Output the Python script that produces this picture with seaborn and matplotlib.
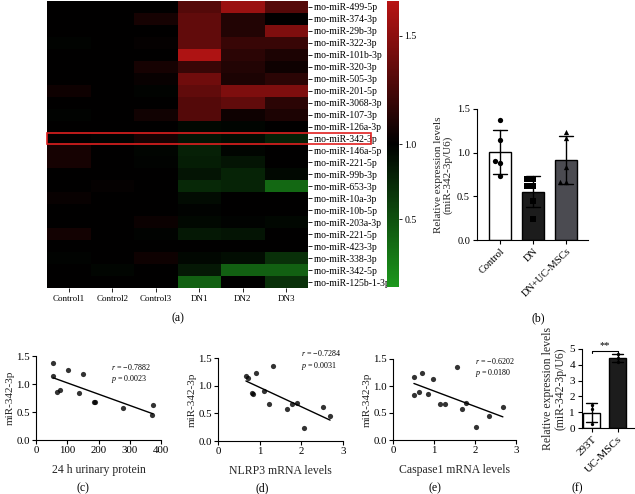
import numpy as np
import pandas as pd
import matplotlib
matplotlib.use('Agg')
import matplotlib.pyplot as plt
from matplotlib.colors import LinearSegmentedColormap, TwoSlopeNorm
from matplotlib.patches import Rectangle
import seaborn as sns

W, H = 635, 494

# (a) heatmap data
mirna_labels = ['rno-miR-499-5p', 'rno-miR-374-3p', 'rno-miR-29b-3p', 'rno-miR-322-3p',
                'rno-miR-101b-3p', 'rno-miR-320-3p', 'rno-miR-505-3p', 'rno-miR-201-5p',
                'rno-miR-3068-3p', 'rno-miR-107-3p', 'rno-miR-126a-3p', 'rno-miR-342-3p',
                'rno-miR-146a-5p', 'rno-miR-221-5p', 'rno-miR-99b-3p', 'rno-miR-653-3p',
                'rno-miR-10a-3p', 'rno-miR-10b-5p', 'rno-miR-203a-3p', 'rno-miR-221-5p',
                'rno-miR-423-3p', 'rno-miR-338-3p', 'rno-miR-342-5p', 'rno-miR-125b-1-3p']
samples = ['Control1', 'Control2', 'Control3', 'DN1', 'DN2', 'DN3']
control1 = [1.0, 1.0, 1.0, 0.98, 1.0, 1.0, 1.0, 1.05, 1.0, 0.98, 1.0, 1.0,
            1.08, 1.08, 1.0, 1.0, 1.03, 1.0, 1.0, 1.07, 1.0, 0.98, 1.0, 1.0]
control2 = [1.0, 1.0, 1.0, 1.0, 1.0, 1.0, 1.0, 1.0, 1.0, 1.0, 1.0, 0.98,
            1.0, 1.0, 1.0, 1.02, 1.0, 1.0, 1.0, 1.0, 1.0, 1.0, 0.97, 1.0]
control3 = [1.0, 1.08, 1.0, 1.02, 1.0, 1.08, 1.03, 0.98, 1.0, 1.06, 1.0, 1.08,
            0.97, 0.98, 1.0, 1.0, 1.0, 1.0, 1.04, 0.98, 1.0, 1.05, 1.0, 1.0]
dn1 = [1.3, 1.35, 1.35, 1.35, 1.62, 1.2, 1.4, 1.35, 1.3, 1.3, 0.95, 0.88,
       0.8, 0.82, 0.88, 0.75, 0.93, 0.98, 0.95, 0.85, 1.0, 0.96, 0.85, 0.4]
dn2 = [1.55, 1.12, 1.12, 1.2, 1.15, 1.12, 1.1, 1.45, 1.35, 1.05, 0.97, 0.92,
       0.97, 0.88, 0.78, 0.78, 1.0, 1.0, 0.98, 0.88, 1.0, 0.92, 0.4, 1.0]
dn3 = [1.3, 1.0, 1.45, 1.2, 1.1, 1.05, 1.15, 1.45, 1.15, 1.1, 1.0, 0.8,
       1.0, 1.0, 0.95, 0.35, 1.0, 1.0, 0.96, 1.0, 1.0, 0.7, 0.4, 0.7]

# (b) miR-342-3p in kidney
b_groups = ['Control', 'DN', 'DN+UC-MSCs']
b_control = [1.37, 1.14, 0.91, 0.885, 0.73]
b_dn = [0.70, 0.70, 0.62, 0.62, 0.45, 0.24]
b_ucmsc = [1.24, 1.17, 0.84, 0.66, 0.66]

# (c)-(e) correlations
c_protein = [55, 55, 101, 151, 66, 77, 139, 185, 190, 278, 374, 371]
c_mir = [1.37, 1.14, 1.245, 1.18, 0.86, 0.90, 0.845, 0.67, 0.685, 0.58, 0.62, 0.45]
d_nlrp3 = [0.67, 0.72, 0.90, 1.33, 0.81, 0.83, 1.11, 1.22, 1.65, 1.78, 1.89, 2.07, 2.52, 2.69]
d_mir = [1.175, 1.13, 1.235, 1.36, 0.87, 0.845, 0.90, 0.66, 0.58, 0.67, 0.68, 0.235, 0.615, 0.445]
e_casp1 = [0.51, 0.51, 0.70, 0.64, 0.85, 0.98, 1.14, 1.28, 1.55, 1.68, 1.79, 2.03, 2.35, 2.68]
e_mir = [1.17, 0.84, 1.235, 0.895, 0.855, 1.135, 0.667, 0.667, 1.357, 0.568, 0.68, 0.235, 0.444, 0.617]

# (f) 293T vs UC-MSCs
f_groups = ['293T', 'UC-MSCs']
f_293t = [1.47, 1.2, 0.27]
f_ucmsc = [4.68, 4.45, 4.2]


def box(x0, y0, x1, y1):
    return [x0 / W, 1 - y1 / H, (x1 - x0) / W, (y1 - y0) / H]


sns.set_theme(style='ticks')
plt.rcParams['font.family'] = ['Liberation Serif', 'DejaVu Serif']
plt.rcParams['mathtext.fontset'] = 'custom'
plt.rcParams['mathtext.rm'] = 'Liberation Serif'
plt.rcParams['mathtext.it'] = 'Liberation Serif:italic'
plt.rcParams['axes.linewidth'] = 0.8
plt.rcParams['axes.edgecolor'] = 'black'
plt.rcParams['text.color'] = 'black'
plt.rcParams['xtick.color'] = 'black'
plt.rcParams['ytick.color'] = 'black'

fig = plt.figure(figsize=(W / 100, H / 100), dpi=100)

# ---- (a) heatmap
ax_a = fig.add_axes(box(47, 1, 308, 288))
cax = fig.add_axes(box(387, 1, 399, 287))
heat = pd.DataFrame({'Control1': control1, 'Control2': control2, 'Control3': control3,
                     'DN1': dn1, 'DN2': dn2, 'DN3': dn3})
cmap = LinearSegmentedColormap.from_list('gbr', ['#1c981c', '#000000', '#b81414'])
norm = TwoSlopeNorm(vmin=0.05, vcenter=1.0, vmax=1.66)
sns.heatmap(heat[samples].values, cmap=cmap, norm=norm, ax=ax_a, cbar_ax=cax,
            xticklabels=samples, yticklabels=mirna_labels)
ax_a.yaxis.tick_right()
ax_a.tick_params(axis='y', rotation=0, labelsize=7, length=3, width=0.6, pad=1.5, right=True, left=False)
ax_a.tick_params(axis='x', rotation=0, labelsize=6.5, length=3, width=0.6, pad=2, bottom=True)
ax_a.add_patch(Rectangle((0, 11), 7.45, 1, fill=False, edgecolor='#e02020', lw=1.2, clip_on=False))
cbar = ax_a.collections[0].colorbar
cbar.outline.set_visible(False)
cbar.set_ticks([0.5, 1.0, 1.5])
cbar.set_ticklabels(['0.5', '1.0', '1.5'])
cax.tick_params(labelsize=7, length=2.5, width=0.6, pad=1.5)

# ---- (b) bar chart
ax_b = fig.add_axes(box(477, 109, 588, 240))
df_b = pd.DataFrame({'group': ['Control'] * len(b_control) + ['DN'] * len(b_dn) + ['DN+UC-MSCs'] * len(b_ucmsc),
                     'value': b_control + b_dn + b_ucmsc})
sns.barplot(data=df_b, x='group', y='value', hue='group', order=b_groups,
            palette=['white', '#1c1c1c', '#4a4a52'], edgecolor='black', linewidth=1,
            errorbar='sd', capsize=0.4, err_kws={'color': 'black', 'linewidth': 1},
            width=0.67, legend=False, ax=ax_b)
for vals, grp, mk in zip([b_control, b_dn, b_ucmsc], b_groups, ['o', 's', '^']):
    sns.swarmplot(x=[grp] * len(vals), y=vals, order=b_groups, color='black', marker=mk,
                  size=3.8, ax=ax_b)
ax_b.set_xlim(-0.7, 2.67)
ax_b.set_ylim(0, 1.5)
ax_b.set_yticks([0, 0.5, 1.0, 1.5])
ax_b.set_yticklabels(['0.0', '0.5', '1.0', '1.5'])
ax_b.set_xlabel('')
ax_b.set_ylabel('Relative expression levels\n(miR-342-3p/U6)', fontsize=8, labelpad=3, linespacing=1.1)
ax_b.tick_params(labelsize=7.5, length=3, width=0.8, pad=2)
ax_b.set_xticks(range(3))
ax_b.set_xticklabels(b_groups, rotation=45, ha='right', rotation_mode='anchor')
sns.despine(ax=ax_b)


# ---- (c)-(e) scatter + regression
def corr_panel(rect, xs, ys, xlim, xticks, xlabel, stat, stat_xy):
    ax = fig.add_axes(box(*rect))
    sns.regplot(x=np.array(xs), y=np.array(ys), ci=None, color='black', ax=ax,
                scatter_kws={'s': 14, 'linewidths': 0},
                line_kws={'linewidth': 1})
    ax.set_xlim(*xlim)
    ax.set_ylim(0, 1.5)
    ax.set_xticks(xticks)
    ax.set_yticks([0, 0.5, 1.0, 1.5])
    ax.set_yticklabels(['0.0', '0.5', '1.0', '1.5'])
    ax.set_xlabel(xlabel, fontsize=8.5, labelpad=6)
    ax.set_ylabel('miR-342-3p', fontsize=8, labelpad=1)
    ax.tick_params(labelsize=7.8, length=3, width=0.8, pad=1.5)
    ax.text(stat_xy[0], stat_xy[1], stat, transform=ax.transAxes, fontsize=5.8,
            va='top', ha='left', linespacing=1.2)
    sns.despine(ax=ax)
    return ax


corr_panel((36, 356, 161, 440), c_protein, c_mir, (0, 400), [0, 100, 200, 300, 400],
           '24 h urinary protein', '$r$ = \u22120.7882\n$p$ = 0.0023', (0.6, 0.93))
corr_panel((218, 358, 343, 441), d_nlrp3, d_mir, (0, 3), [0, 1, 2, 3],
           'NLRP3 mRNA levels', '$r$ = \u22120.7284\n$p$ = 0.0031', (0.66, 1.12))
corr_panel((393, 359, 516, 440), e_casp1, e_mir, (0, 3), [0, 1, 2, 3],
           'Caspase1 mRNA levels', '$r$ = \u22120.6202\n$p$ = 0.0180', (0.67, 1.04))

# ---- (f) bar chart
ax_f = fig.add_axes(box(582, 349, 635, 428))
df_f = pd.DataFrame({'group': ['293T'] * len(f_293t) + ['UC-MSCs'] * len(f_ucmsc),
                     'value': f_293t + f_ucmsc})
sns.barplot(data=df_f, x='group', y='value', hue='group', order=f_groups,
            palette=['white', '#1c1c1c'], edgecolor='black', linewidth=1,
            errorbar='sd', capsize=0.4, err_kws={'color': 'black', 'linewidth': 1},
            width=0.65, legend=False, ax=ax_f)
sns.swarmplot(data=df_f, x='group', y='value', order=f_groups, color='black', size=2.4, ax=ax_f)
ax_f.set_xlim(-0.37, 1.67)
ax_f.set_ylim(0, 5)
ax_f.set_yticks(range(6))
ax_f.set_xlabel('')
ax_f.set_ylabel('Relative expression levels\n(miR-342-3p/U6)', fontsize=8.5, labelpad=2, linespacing=1.1)
ax_f.tick_params(labelsize=8, length=3, width=0.8, pad=2)
ax_f.set_xticks(range(2))
ax_f.set_xticklabels(f_groups, rotation=45, ha='right', rotation_mode='anchor')
ax_f.plot([0, 0, 1, 1], [4.72, 4.85, 4.85, 4.72], color='black', lw=0.8, clip_on=False)
ax_f.text(0.5, 4.95, '**', ha='center', va='bottom', fontsize=7.5)
sns.despine(ax=ax_f)

# panel letters
for lab, px, py in [('(a)', 178, 318), ('(b)', 538, 318), ('(c)', 83, 488),
                    ('(d)', 262, 488), ('(e)', 435, 488), ('(f)', 577, 488)]:
    fig.text(px / W, 1 - py / H, lab, ha='center', va='center', fontsize=8.5)

fig.savefig('out.png', dpi=100)
